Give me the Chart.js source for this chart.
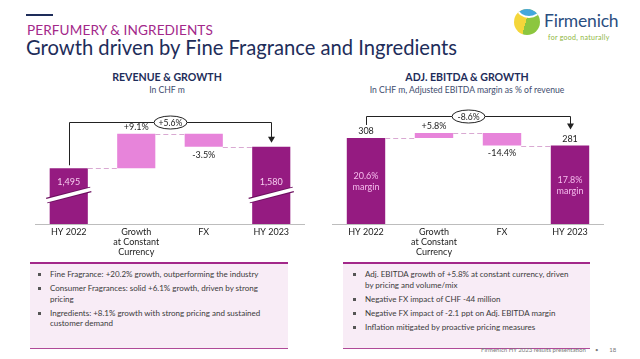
<!DOCTYPE html>
<html>
<head>
<meta charset="utf-8">
<script src="https://cdn.jsdelivr.net/npm/chart.js@4/dist/chart.umd.min.js"></script>
<style>
  html, body { margin:0; padding:0; }
  body { width:640px; height:359px; position:relative; overflow:hidden; background:#fff; font-family:'Lato', sans-serif; }
  .abs { position:absolute; }
  .dash { left:26px; top:14px; width:27px; height:2px; background:#1E2D5A; }
  .kicker { left:27px; top:22px; font-size:13.6px; color:#A3288A; letter-spacing:0.1px; white-space:nowrap; }
  .headline { left:26px; top:35px; font-size:20.2px; color:#1E2D5A; white-space:nowrap; }
  .ctitle { width:300px; text-align:center; font-weight:bold; font-size:10.6px; color:#1E2D5A; white-space:nowrap; }
  .csub { width:300px; text-align:center; font-size:8.6px; color:#3E4C6E; white-space:nowrap; }
  .box { top:262px; height:84px; background:#F8ECF6; border-top:2px solid #A3288A; border-bottom:1px solid #B04A98; }
  .box ul { margin:0; padding:5px 0 0 20px; list-style:none; }
  .box li { position:relative; font-size:8px; line-height:10.5px; color:#3a3a3a; white-space:nowrap; margin-bottom:3.5px; }
  .box li:before { content:''; position:absolute; left:-12px; top:4px; width:3px; height:3px; background:#555; }
  .footer { top:346px; left:481px; font-size:6px; color:#7a7a7a; white-space:nowrap; }
  .logo { left:514px; top:9px; width:26px; height:26px; border-radius:50%; overflow:hidden;
          background:linear-gradient(105deg, #F4D63A 0 46%, #8CC63F 46% 100%); }
  .logo:before { content:''; position:absolute; left:3px; top:-9px; width:20px; height:14px; border-radius:50%; background:#43A7DD; border:2px solid #fff; }
  .brand { left:544px; top:10px; font-size:17.5px; color:#2A4E80; white-space:nowrap; letter-spacing:-0.2px; }
  .tag { left:548px; top:33px; font-size:7px; color:#8DB63C; white-space:nowrap; letter-spacing:0.3px; }
  canvas { position:absolute; }
</style>
</head>
<body>
<div class="abs dash"></div>
<div class="abs kicker">PERFUMERY &amp; INGREDIENTS</div>
<div class="abs headline">Growth driven by Fine Fragrance and Ingredients</div>
<div class="abs logo"></div>
<div class="abs brand">Firmenich</div>
<div class="abs tag">for good, naturally</div>

<div class="abs ctitle" style="left:17px; top:71px;">REVENUE &amp; GROWTH</div>
<div class="abs csub" style="left:17px; top:85px;">In CHF m</div>
<div class="abs ctitle" style="left:317px; top:71px;">ADJ. EBITDA &amp; GROWTH</div>
<div class="abs csub" style="left:317px; top:85px;">In CHF m, Adjusted EBITDA margin as % of revenue</div>

<canvas id="c1" width="270" height="153" style="left:35px; top:105px;"></canvas>
<canvas id="c2" width="272" height="153" style="left:332px; top:105px;"></canvas>

<div class="abs box" style="left:30px; width:258px;">
  <ul>
    <li>Fine Fragrance: +20.2% growth, outperforming the industry</li>
    <li>Consumer Fragrances: solid +6.1% growth, driven by strong<br>pricing</li>
    <li>Ingredients: +8.1% growth with strong pricing and sustained<br>customer demand</li>
  </ul>
</div>
<div class="abs box" style="left:343px; width:247px;">
  <ul style="padding-left:22px;">
    <li>Adj. EBITDA growth of +5.8% at constant currency, driven<br>by pricing and volume/mix</li>
    <li>Negative FX impact of CHF -44 million</li>
    <li>Negative FX impact of -2.1 ppt on Adj. EBITDA margin</li>
    <li>Inflation mitigated by proactive pricing measures</li>
  </ul>
</div>
<div class="abs footer">Firmenich HY 2023 results presentation &nbsp;&nbsp;&nbsp;&nbsp;&nbsp;•&nbsp;&nbsp;&nbsp;&nbsp;&nbsp;&nbsp;&nbsp;18</div>

<script>
// ---------------- data ----------------
const categories = ['HY 2022', ['Growth', 'at Constant', 'Currency'], 'FX', 'HY 2023'];

const revenueSteps  = [1495, 136, -51, 1580];          // start, growth, FX, end (CHF m)
const revenueLabels = ['1,495', '+9.1%', '-3.5%', '1,580'];
const revenueTotal  = '+5.6%';
const revenueAxis   = [1275, 1745];

const ebitdaSteps   = [308, 18, -45, 281];
const ebitdaLabels  = ['308', '+5.8%', '-14.4%', '281'];
const ebitdaMargins = ['20.6%', '17.8%'];
const ebitdaTotal   = '-8.6%';
const ebitdaAxis    = [0, 426];

// ---------------- helpers ----------------
const DARK = '#951B81', LIGHT = '#E784DA';

function buildFloating(steps, base) {
  const out = []; const cum = [];
  let run = steps[0];
  out.push([base, steps[0]]); cum.push(run);
  for (let i = 1; i < steps.length - 1; i++) {
    const next = run + steps[i];
    out.push([Math.min(run, next), Math.max(run, next)]);
    run = next; cum.push(run);
  }
  out.push([base, steps[steps.length - 1]]); cum.push(steps[steps.length - 1]);
  return { out, cum };
}

const deco = {
  id: 'deco',
  afterDatasetsDraw(chart) {
    const d = chart.options.plugins.deco;
    const ctx = chart.ctx;
    const bars = chart.getDatasetMeta(0).data;
    const ys = chart.scales.y;
    const ca = chart.chartArea;
    const top = b => Math.min(b.y, b.base);
    const bot = b => Math.max(b.y, b.base);
    ctx.save();
    // dashed connectors
    ctx.strokeStyle = '#D9A9D2'; ctx.lineWidth = 1; ctx.setLineDash([5, 3]);
    for (let i = 0; i < bars.length - 1; i++) {
      const y = Math.round(ys.getPixelForValue(d.cum[i])) + 0.5;
      ctx.beginPath();
      ctx.moveTo(bars[i].x + bars[i].width / 2, y);
      ctx.lineTo(bars[i + 1].x - bars[i + 1].width / 2, y);
      ctx.stroke();
    }
    ctx.setLineDash([]);
    // break symbols
    if (d.breakAt) {
      const by = ca.bottom - d.breakAt;
      [0, bars.length - 1].forEach(i => {
        const b = bars[i];
        const x0 = b.x - b.width / 2 - 3, x1 = b.x + b.width / 2 + 3;
        ctx.lineCap = 'butt';
        ctx.strokeStyle = '#6d1060'; ctx.lineWidth = 5.5;
        ctx.beginPath(); ctx.moveTo(x0, by + 5.5); ctx.lineTo(x1, by - 5.5); ctx.stroke();
        ctx.strokeStyle = '#ffffff'; ctx.lineWidth = 3.5;
        ctx.beginPath(); ctx.moveTo(x0 - 1, by + 6); ctx.lineTo(x1 + 1, by - 6); ctx.stroke();
      });
    }
    // value labels
    ctx.font = '9px Lato'; ctx.textAlign = 'center'; ctx.textBaseline = 'middle';
    d.labels.forEach((t, i) => {
      const b = bars[i];
      const pos = d.labelPos[i];
      ctx.fillStyle = pos === 'in' ? '#F6CDEF' : '#222';
      let y;
      if (pos === 'above') y = top(b) - 6.5;
      else if (pos === 'below') y = bot(b) + 8;
      else y = ca.bottom - d.breakAt - 13;
      ctx.fillText(t, b.x, y);
    });
    // margin labels inside totals
    if (d.margins) {
      ctx.fillStyle = '#F6BDEE';
      [0, bars.length - 1].forEach((i, k) => {
        const b = bars[i];
        const mid = (top(b) + bot(b)) / 2;
        ctx.fillText(d.margins[k], b.x, mid - 5);
        ctx.fillText('margin', b.x, mid + 6);
      });
    }
    // bracket
    const b0 = bars[0], b3 = bars[bars.length - 1];
    const minTop = Math.min(...bars.map(top));
    const yb = Math.round(minTop - d.bracketGap) + 0.5;
    const xl = Math.round(b0.x) + 0.5, xr = Math.round(b3.x) + 0.5;
    const tip = top(b3) - d.arrowGap;
    ctx.strokeStyle = '#222'; ctx.lineWidth = 1;
    ctx.beginPath();
    ctx.moveTo(xl, top(b0) - d.leftGap);
    ctx.lineTo(xl, yb); ctx.lineTo(xr, yb); ctx.lineTo(xr, tip - 5);
    ctx.stroke();
    ctx.fillStyle = '#222';
    ctx.beginPath(); ctx.moveTo(xr - 3.5, tip - 6); ctx.lineTo(xr + 3.5, tip - 6); ctx.lineTo(xr, tip); ctx.closePath(); ctx.fill();
    const mx = (xl + xr) / 2;
    ctx.beginPath(); ctx.ellipse(mx, yb, 16.5, 6.5, 0, 0, Math.PI * 2);
    ctx.fillStyle = '#fff'; ctx.fill(); ctx.stroke();
    ctx.fillStyle = '#222'; ctx.font = '8.6px Lato';
    ctx.fillText(d.total, mx, yb + 0.5);
    ctx.restore();
  }
};

function makeChart(id, steps, axis, labels, labelPos, extra) {
  const { out, cum } = buildFloating(steps, axis[0]);
  const colors = out.map((_, i) => (i === 0 || i === out.length - 1) ? DARK : LIGHT);
  return new Chart(document.getElementById(id), {
    type: 'bar',
    data: { labels: categories, datasets: [{ data: out, backgroundColor: colors, borderWidth: 0, barPercentage: 0.565, categoryPercentage: 1 }] },
    options: {
      responsive: false, animation: false,
      layout: { padding: 0 },
      plugins: {
        legend: { display: false }, tooltip: { enabled: false },
        deco: Object.assign({ cum, labels, labelPos }, extra)
      },
      scales: {
        x: {
          grid: { display: false, drawTicks: false },
          border: { display: true, color: '#BDBDBD', width: 1 },
          ticks: { font: { family: 'Lato', size: 9, lineHeight: 1.12 }, color: '#222', padding: 3, maxRotation: 0, autoSkip: false },
          afterFit(a) { a.height = 34; }
        },
        y: { display: false, min: axis[0], max: axis[1] }
      }
    },
    plugins: [deco]
  });
}

makeChart('c1', revenueSteps, revenueAxis, revenueLabels, ['in', 'above', 'below', 'in'],
  { total: revenueTotal, breakAt: 29, bracketGap: 12, leftGap: 3, arrowGap: 4 });
makeChart('c2', ebitdaSteps, ebitdaAxis, ebitdaLabels, ['above', 'above', 'below', 'above'],
  { total: ebitdaTotal, margins: ebitdaMargins, bracketGap: 17, leftGap: 13, arrowGap: 16 });
</script>
</body>
</html>
